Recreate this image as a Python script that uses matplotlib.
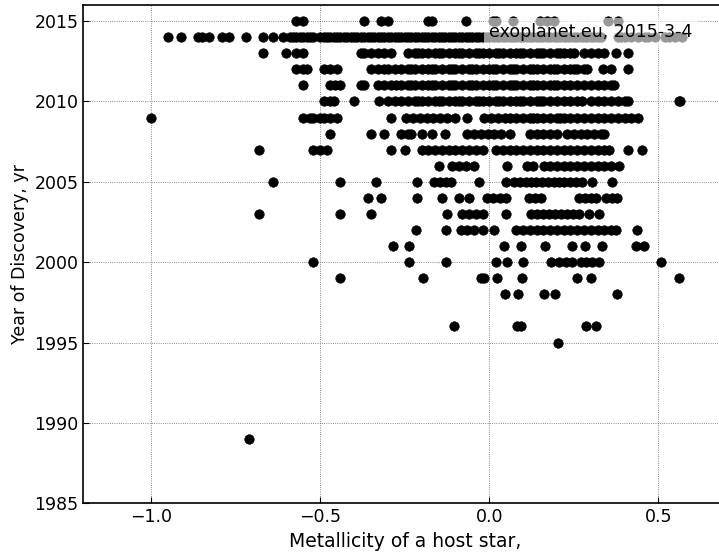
import matplotlib
matplotlib.use('Agg')
import matplotlib.pyplot as plt
import numpy as np

# Metallicity [Fe/H] of host stars, grouped by discovery year

met_2015 = [-0.57, -0.55, -0.37, -0.32, -0.30, -0.18, -0.17, -0.07, 0.01, 0.02,
            0.07, 0.15, 0.17, 0.19, 0.35, 0.38]
met_2014 = [-0.95, -0.91, -0.86, -0.85, -0.83, -0.79, -0.77, -0.72, -0.67, -0.64,
            -0.61, -0.59, -0.58, -0.57, -0.56, -0.55, -0.54, -0.53, -0.52,
            -0.50, -0.49, -0.48, -0.47, -0.46, -0.45, -0.44, -0.43, -0.42, -0.41,
            -0.40, -0.39, -0.38, -0.37, -0.36, -0.35, -0.34, -0.33, -0.32, -0.31,
            -0.30, -0.29, -0.28, -0.27, -0.26, -0.25, -0.24, -0.23, -0.22, -0.21,
            -0.20, -0.19, -0.18, -0.17, -0.16, -0.15, -0.14, -0.13, -0.12, -0.11,
            -0.10, -0.09, -0.08, -0.07, -0.06, -0.05, -0.04, -0.03, -0.02, -0.01,
            0.00, 0.01, 0.02, 0.03, 0.04, 0.05, 0.06, 0.07, 0.08, 0.09,
            0.10, 0.11, 0.12, 0.13, 0.14, 0.15, 0.16, 0.17, 0.18, 0.19,
            0.20, 0.21, 0.22, 0.23, 0.24, 0.25, 0.26, 0.27, 0.28, 0.29,
            0.30, 0.31, 0.32, 0.33, 0.38, 0.39, 0.40, 0.42, 0.44, 0.46, 0.47,
            0.49, 0.52, 0.53, 0.55, 0.57]
met_2013 = [-0.67, -0.60, -0.57, -0.55, -0.38, -0.37, -0.35, -0.33, -0.31, -0.29,
            -0.24, -0.22, -0.21, -0.20, -0.18, -0.16, -0.15, -0.14, -0.12, -0.10,
            -0.09, -0.08, -0.06, -0.04, -0.03, -0.02, 0.00, 0.02, 0.03, 0.04,
            0.06, 0.08, 0.09, 0.10, 0.12, 0.14, 0.15, 0.16, 0.18, 0.20, 0.21,
            0.22, 0.24, 0.25, 0.28, 0.30, 0.32, 0.34, 0.375, 0.41]
met_2012 = [-0.57, -0.55, -0.54, -0.49, -0.47, -0.45, -0.35, -0.33, -0.31, -0.30,
            -0.28, -0.26, -0.24, -0.23, -0.22, -0.20, -0.18, -0.17, -0.16, -0.14,
            -0.12, -0.11, -0.10, -0.08, -0.06, -0.05, -0.04, -0.02, 0.00, 0.01,
            0.02, 0.04, 0.06, 0.07, 0.08, 0.10, 0.12, 0.13, 0.14, 0.16, 0.18,
            0.19, 0.20, 0.22, 0.24, 0.25, 0.26, 0.28, 0.29, 0.335, 0.36, 0.41]
met_2011 = [-0.55, -0.47, -0.455, -0.44, -0.38, -0.37, -0.33, -0.31, -0.29, -0.275,
            -0.26, -0.24, -0.23, -0.22, -0.20, -0.18, -0.17, -0.16, -0.14, -0.12,
            -0.11, -0.10, -0.08, -0.06, -0.05, -0.04, -0.02, 0.00, 0.01, 0.02,
            0.04, 0.06, 0.07, 0.08, 0.10, 0.12, 0.13, 0.14, 0.16, 0.18, 0.19,
            0.20, 0.22, 0.24, 0.26, 0.28, 0.30, 0.32, 0.34, 0.36, 0.37]
met_2010 = [-0.49, -0.47, -0.46, -0.40, -0.325, -0.30, -0.28, -0.26, -0.24, -0.22,
            -0.21, -0.20, -0.18, -0.16, -0.15, -0.14, -0.12, -0.10, -0.09, -0.08,
            -0.06, -0.04, -0.03, -0.02, 0.00, 0.02, 0.03, 0.04, 0.06, 0.08,
            0.09, 0.10, 0.12, 0.14, 0.15, 0.16, 0.18, 0.20, 0.22, 0.24, 0.26,
            0.275, 0.30, 0.32, 0.34, 0.36, 0.38, 0.40, 0.41, 0.56, 0.565]
met_2009 = [-1.00, -0.55, -0.53, -0.52, -0.50, -0.49, -0.47, -0.45, -0.29,
            -0.245, -0.225, -0.205, -0.185, -0.165, -0.145, -0.125, -0.10,
            -0.065, -0.015, 0.005, 0.025, 0.045, 0.06, 0.08, 0.10, 0.12, 0.13,
            0.14, 0.16, 0.18, 0.20, 0.21, 0.22, 0.24, 0.26, 0.28, 0.30, 0.32,
            0.34, 0.36, 0.38, 0.40, 0.42, 0.44]
met_2008 = [-0.47, -0.35, -0.31, -0.26, -0.24, -0.23, -0.20, -0.17, -0.13,
            -0.065, -0.045, -0.025, -0.005, 0.015, 0.035, 0.06, 0.12, 0.14,
            0.16, 0.18, 0.20, 0.23, 0.25, 0.27, 0.29, 0.31, 0.33, 0.34]
met_2007 = [-0.68, -0.52, -0.50, -0.48, -0.29, -0.25, -0.20, -0.18, -0.16, -0.14,
            -0.12, -0.10, -0.08, -0.06, -0.04, -0.02, 0.02, 0.04, 0.06, 0.08,
            0.10, 0.12, 0.14, 0.16, 0.18, 0.20, 0.22, 0.24, 0.26, 0.28, 0.30,
            0.32, 0.34, 0.355, 0.41, 0.45]
met_2006 = [-0.15, -0.11, -0.09, -0.07, -0.045, 0.053, 0.11, 0.13, 0.163, 0.18,
            0.20, 0.22, 0.24, 0.26, 0.28, 0.30, 0.32, 0.34, 0.36, 0.384]
met_2005 = [-0.64, -0.44, -0.335, -0.215, -0.163, -0.145, -0.127, -0.112, -0.03,
            0.05, 0.074, 0.092, 0.109, 0.124, 0.139, 0.157, 0.174, 0.192, 0.207,
            0.222, 0.239, 0.257, 0.275, 0.304, 0.364]
met_2004 = [-0.36, -0.32, -0.215, -0.14, -0.09, -0.06, -0.006, 0.012, 0.033, 0.05,
            0.118, 0.136, 0.154, 0.266, 0.284, 0.302, 0.316, 0.346, 0.364, 0.378]
met_2003 = [-0.68, -0.44, -0.35, -0.124, -0.08, -0.06, -0.04, -0.02, 0.05, 0.124,
            0.142, 0.160, 0.177, 0.195, 0.213, 0.231, 0.248, 0.266, 0.296, 0.325]
met_2002 = [-0.216, -0.127, -0.083, -0.065, -0.044, -0.018, 0.015, 0.08, 0.10,
            0.12, 0.14, 0.16, 0.18, 0.20, 0.22, 0.24, 0.26, 0.28, 0.30, 0.32,
            0.34, 0.36, 0.375, 0.437]
met_2001 = [-0.284, -0.236, 0.044, 0.095, 0.166, 0.245, 0.284, 0.334, 0.435, 0.458]
met_2000 = [-0.52, -0.236, -0.127, 0.021, 0.053, 0.101, 0.183, 0.207, 0.228, 0.245,
            0.272, 0.287, 0.304, 0.325, 0.508]
met_1999 = [-0.44, -0.195, -0.025, -0.015, 0.024, 0.098, 0.260, 0.302, 0.56]
met_1998 = [0.047, 0.086, 0.163, 0.195, 0.378]
met_1996 = [-0.103, 0.083, 0.095, 0.287, 0.316]
met_1995 = [0.204]
met_1989 = [-0.71]

by_year = {2015: met_2015, 2014: met_2014, 2013: met_2013, 2012: met_2012,
           2011: met_2011, 2010: met_2010, 2009: met_2009, 2008: met_2008,
           2007: met_2007, 2006: met_2006, 2005: met_2005, 2004: met_2004,
           2003: met_2003, 2002: met_2002, 2001: met_2001, 2000: met_2000,
           1999: met_1999, 1998: met_1998, 1996: met_1996, 1995: met_1995,
           1989: met_1989}

metallicity = []
year = []
for y, vals in by_year.items():
    metallicity += vals
    year += [y] * len(vals)

# Figure

fig = plt.figure(figsize=(7.19, 5.54), dpi=100)
ax = fig.add_axes([0.1159, 0.0915, 0.894, 0.8995])

ax.plot(metallicity, year, 'ko', markersize=6.8, markeredgewidth=0.5)

ax.set_xlim(-1.2, 0.7)
ax.set_ylim(1985, 2016)
ax.set_xticks([-1.0, -0.5, 0.0, 0.5])
ax.set_yticks(np.arange(1985, 2016, 5))
ax.grid(True, color='k', linestyle=':', linewidth=0.6, alpha=0.6)
ax.tick_params(labelsize=12.5, direction='in', length=4)
for s in ax.spines.values():
    s.set_linewidth(1.2)

ax.set_xlabel('Metallicity of a host star,', fontsize=13.5)
ax.set_ylabel('Year of Discovery, yr', fontsize=12.5)

ax.text(0.0, 2014, 'exoplanet.eu, 2015-3-4', fontsize=12.5,
        bbox=dict(facecolor='white', edgecolor='none', alpha=0.6))

fig.savefig('out.png', dpi=100)
